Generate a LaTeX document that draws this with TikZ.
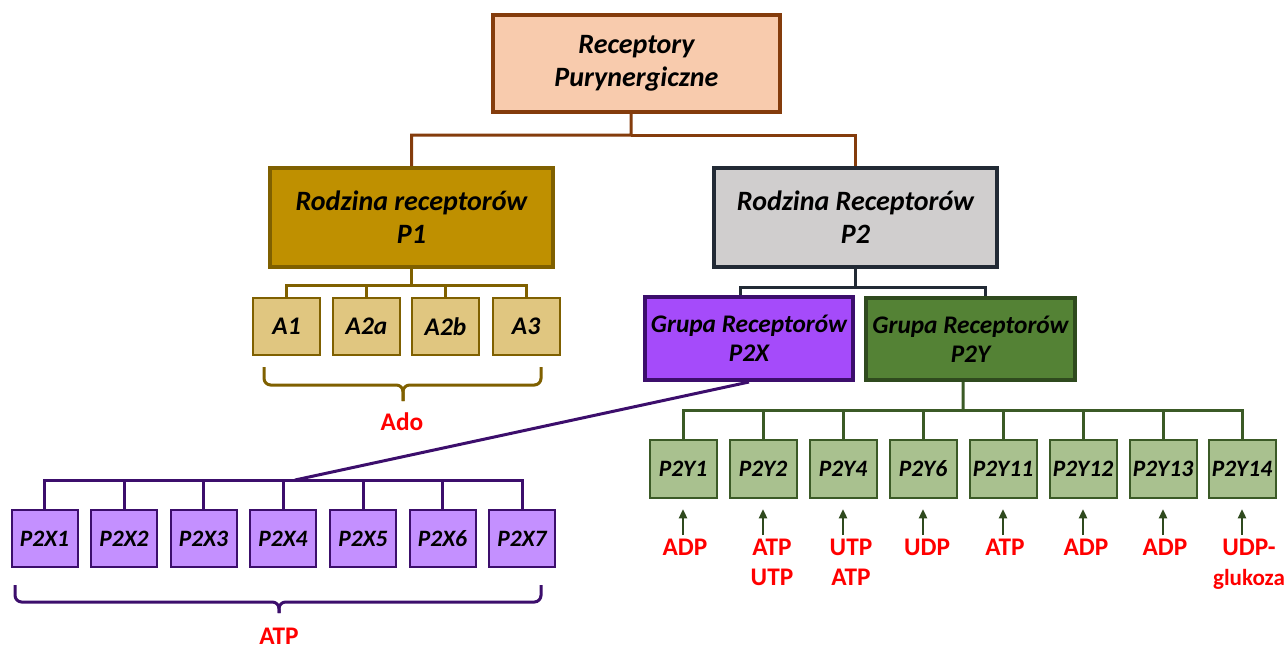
\documentclass[tikz,border=0pt]{standalone}
\usepackage{fontspec}
\setmainfont{Carlito}
\usetikzlibrary{arrows.meta,calc}
\definecolor{topfill}{HTML}{F8CBAD}
\definecolor{topline}{HTML}{843C0C}
\definecolor{pjfill}{HTML}{BF9000}
\definecolor{pjline}{HTML}{7F6000}
\definecolor{pdfill}{HTML}{D0CECE}
\definecolor{pdline}{HTML}{222A35}
\definecolor{afill}{HTML}{E0C680}
\definecolor{pxfill}{HTML}{A54BFA}
\definecolor{pxline}{HTML}{3C0E6C}
\definecolor{pxsmall}{HTML}{C490FF}
\definecolor{pyfill}{HTML}{548235}
\definecolor{pyline}{HTML}{2F4A1E}
\definecolor{pysmall}{HTML}{A9C18F}
\definecolor{pysline}{HTML}{3B5A26}
\definecolor{lab}{HTML}{FF0000}
\begin{document}
\begin{tikzpicture}[x=0.75pt,y=-0.75pt,
  sz/.style 2 args={minimum width=#1*0.75pt, minimum height=#2*0.75pt},
  bigbox/.style={draw, line width=3pt, inner sep=0pt, align=center, font=\fontsize{21}{25}\selectfont\bfseries\itshape},
  grpbox/.style={draw, line width=3pt, inner sep=0pt, align=center, font=\fontsize{19}{21.5}\selectfont\bfseries\itshape},
  smallbox/.style={draw, line width=1.5pt, inner sep=0pt, align=center},
  abox/.style={smallbox, sz={67}{57}, fill=afill, draw=pjline, font=\fontsize{19}{22}\selectfont\bfseries\itshape},
  xbox/.style={smallbox, sz={66}{57}, fill=pxsmall, draw=pxline, font=\fontsize{17.6}{20}\selectfont\bfseries\itshape},
  ybox/.style={smallbox, sz={67}{58}, fill=pysmall, draw=pysline, font=\fontsize{17.6}{20}\selectfont\bfseries\itshape},
  conn/.style={line width=2.25pt},
  bracepath/.style={line width=2.25pt, rounded corners=5pt},
  redlab/.style={inner sep=0pt, text=lab, align=center, font=\fontsize{19}{22.5}\selectfont\bfseries},
  arr/.style={line width=1.7pt, draw=pyline, -{Triangle[length=7pt,width=6pt]}, shorten <=3pt, shorten >=7.5pt}
]
\useasboundingbox (0,0) rectangle (1288,651);

% top level
\node[bigbox, sz={287}{97}, fill=topfill, draw=topline] (top) at (636.5,63.5) {Receptory\\Purynergiczne};
\node[bigbox, sz={283}{99}, fill=pjfill, draw=pjline] (p1) at (411.5,217.5) {Rodzina receptorów\\P1};
\node[bigbox, sz={283}{99}, fill=pdfill, draw=pdline] (p2) at (855.5,217.5) {Rodzina Receptorów\\P2};

\coordinate (j0) at (631,135);
\draw[conn, topline] ([xshift=-4.1pt]top.south) -- (j0) -| (p1.north);
\draw[conn, topline] (j0) -| (p2.north);

% P1 children
\foreach \n/\x in {A1/286.5, A2a/366.5, A2b/445.5, A3/526}
  \node[abox] (\n) at (\x,326.5) {\n};
\coordinate (j1) at (411.5,285);
\draw[conn, pjline] (p1.south) -- (j1);
\foreach \n in {A1,A2a,A2b,A3}
  \draw[conn, pjline] (j1) -| (\n.north);

% Ado brace
\draw[bracepath, pjline] (264,367) -- (264,385) -- (403,385) -- (403,401);
\draw[bracepath, pjline] (541,367) -- (541,385) -- (403,385) -- (403,401);
\node[redlab] (ado) at (402,422) {Ado};

% P2 children
\node[grpbox, sz={208}{83}, fill=pxfill, draw=pxline] (p2x) at (749,338.5) {Grupa Receptorów\\P2X};
\node[grpbox, sz={209}{82}, fill=pyfill, draw=pyline] (p2y) at (970.5,339) {Grupa Receptorów\\P2Y};
\coordinate (j2) at (855.5,287);
\draw[conn, pdline] (p2.south) -- (j2);
\draw[conn, pdline] (j2) -| ([xshift=-6.75pt]p2x.north);
\draw[conn, pdline] (j2) -| ([xshift=10.9pt]p2y.north);

% P2X children
\foreach \i/\x in {1/44.5, 2/124, 3/203.5, 4/283, 5/363, 6/442.5, 7/522}
  \node[xbox] (x\i) at (\x,538.5) {P2X\i};
\coordinate (j3) at (295,480);
\draw[conn, pxline] (p2x.south) -- (j3);
\foreach \i in {1,...,7}
  \draw[conn, pxline] (j3) -| (x\i.north);

% ATP brace
\draw[bracepath, pxline] (15,585) -- (15,602) -- (279,602) -- (279,613);
\draw[bracepath, pxline] (541,585) -- (541,602) -- (279,602) -- (279,613);
\node[redlab] (atp) at (279,636) {ATP};

% P2Y children
\foreach \n/\x in {1/683, 2/763, 4/843, 6/923, 11/1003, 12/1083, 13/1163, 14/1242}
  \node[ybox] (y\n) at (\x,469) {P2Y\n};
\coordinate (j4) at (963,410);
\draw[conn, pysline] ([xshift=-5.6pt]p2y.south) -- (j4);
\foreach \n in {1,2,4,6,11,12,13,14}
  \draw[conn, pysline] (j4) -| (y\n.north);

% agonist labels
\node[redlab, anchor=north] (l1) at (685,539) {ADP};
\node[redlab, anchor=north] (l2) at (772,539) {ATP\\UTP};
\node[redlab, anchor=north] (l4) at (851,539) {UTP\\ATP};
\node[redlab, anchor=north] (l6) at (927,539) {UDP};
\node[redlab, anchor=north] (l11) at (1005,539) {ATP};
\node[redlab, anchor=north] (l12) at (1086,539) {ADP};
\node[redlab, anchor=north] (l13) at (1165,539) {ADP};
\node[redlab, anchor=north] (l14) at (1249,539) {UDP-\\{\fontsize{17.3}{22.5}\selectfont glukoza}};

\foreach \n in {1,2,4,6,11,12,13,14}
  \draw[arr] (l\n.north -| y\n.south) -- (y\n.south);
\end{tikzpicture}
\end{document}
